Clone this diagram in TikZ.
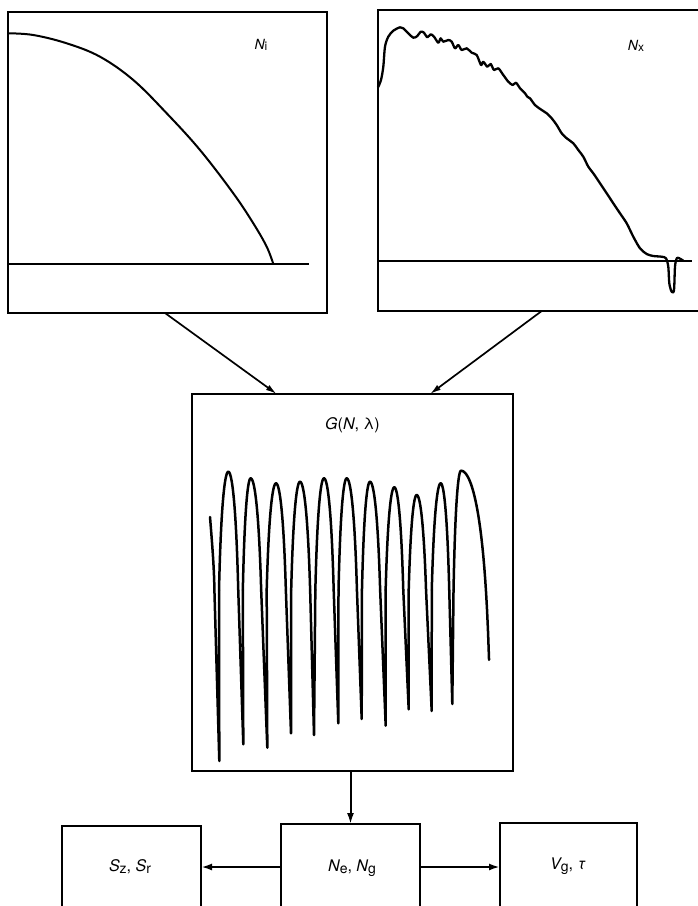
\documentclass[tikz,border=0pt]{standalone}
\usepackage{fontspec}
\setmainfont{TeX Gyre Heros}
\usetikzlibrary{arrows.meta,calc}
\newcommand\lsub[3]{\raisebox{-#3}{\fontsize{#1}{#1}\selectfont #2}}
\begin{document}
\begin{tikzpicture}[x=1pt,y=-1pt,
  box/.style={draw, line width=1.2pt, inner sep=0pt, outer sep=0pt, anchor=north west},
  trace/.style={line width=2.5pt, line join=round, line cap=round},
  axisline/.style={line width=1.1pt},
  arr/.style={line width=1.7pt, -{Latex[length=11pt,width=6pt]}},
  harr/.style={line width=2.4pt, -{Latex[length=11pt,width=7pt]}},
  toplbl/.style={inner sep=0pt, font=\fontsize{14}{16}\selectfont},
  botlbl/.style={inner sep=0pt, font=\fontsize{16}{19}\selectfont}]
\useasboundingbox (0,0) rectangle (698,906);
\begin{scope}
\clip (0,0) rectangle (698,906);
% boxes
\node[box, minimum width=319pt, minimum height=301pt] (ni) at (8,12) {};
\node[box, minimum width=330pt, minimum height=301pt] (nx) at (378,10) {};
\node[box, minimum width=321pt, minimum height=377pt] (g) at (192,394) {};
\node[box, minimum width=139pt, minimum height=120pt] (sz) at (62,826) {};
\node[box, minimum width=139pt, minimum height=120pt] (ne) at (281,824) {};
\node[box, minimum width=137pt, minimum height=120pt] (vg) at (500,823) {};
% baselines
\draw[axisline] (8,264) -- (309,264);
\draw[axisline] (378,261) -- (692,261);
% N_i curve
\draw[line width=2pt, line join=round] plot[smooth, tension=0.6] coordinates {(8,33.3) (33.3,35) (66.7,43.3) (100,56.7) (133.3,80) (166.7,113.3) (200,150) (233.3,193.3) (253.3,223.3) (266.7,246.7) (273.3,264)};
% N_x curve
\draw[trace, line width=2.3pt] plot[smooth, tension=0.5] coordinates {
(378,87.3) (381,80) (383.3,66.7) (385,46.7) (388.3,36.7) (393.3,30.7) (400,27.3) (403.3,28.3)
(408.3,33.3) (413.3,37.7) (417.3,36) (420.7,31.7) (424,32.7) (427.3,37.3) (430.7,34.3) (434,36.7)
(438.3,42.7) (440.7,38.3) (443.3,41.7) (448.3,40) (451.7,41.7) (455,48.3) (458.3,45) (461.7,50)
(466.7,48.3) (471.7,52.7) (476.7,55) (481,65) (483.3,61.7) (487.3,66.7) (490.7,64) (494,70)
(498.3,68.3) (503.3,75) (508.3,81.7) (512.7,85) (516,82.7) (520,88.3) (525,93.3) (527.3,96.7)
(530,98.3) (535,105) (541.7,110) (546.7,113.3) (551.7,118.3) (556.7,125) (561.7,133.3) (566.7,138.3)
(573.3,143.3) (578.3,150) (583.3,156.7) (588.3,166.7) (593.3,173.3) (600,183.3) (606.7,193.3)
(613.3,203.3) (620,213.3) (626.7,223.3) (633.3,236.7) (640,248.3) (646.7,254) (653.3,256)
(661.7,256.7) (666,258.3) (668.3,266.7) (669.3,283.3) (671.7,291.7) (674,290) (675,266.7)
(676.7,258.3) (679.3,258.3) (683.3,260.7)};
% G(N,lambda) trace: arches
\foreach \bl/\xp/\yp/\br/\ye [count=\i] in {
 216.7/228.3/471.7/240.7/590, 240.7/250.7/478.3/264/590, 264/276/483.3/288.7/590,
 288.7/300/481.7/313/590, 313/324/478.3/336.3/590, 336.3/346.7/478.3/359.7/590,
 359.7/370/481.7/383/590, 383/394.3/487.3/406/590, 406/416.7/495/429.2/590,
 429.2/440.7/483.3/451.7/590, 451.7/461/470.7/492/661} {
  \pgfmathsetmacro\uc{asin(exp(-(590-\yp)/100))}
  \pgfmathsetmacro\ue{180-asin(exp(-(\ye-\yp)/100))}
  \draw[trace] plot[domain=\uc:90, samples=30, variable=\uu] ({\bl+(\xp-\bl)*\uu/90},{\yp-100*ln(sin(\uu))})
     -- plot[domain=90:\ue, samples=30, variable=\uu] ({\xp+(\br-\xp)*(\uu-90)/90},{\yp-100*ln(sin(\uu))});
  \coordinate (aL\i) at ({\bl+(\xp-\bl)*\uc/90},590);
  \coordinate (aR\i) at ({\xp+(\br-\xp)*(\ue-90)/90},\ye);
}
% spikes
\coordinate (st) at (210,517);
\draw[trace] (st) .. controls (212.3,545) and (214.2,570) .. (214.4,590) -- (219.3,761) -- (aL1);
\foreach \sx/\sy/\j [count=\k from 2] in {243.3/744.3/1, 267.3/747.7/2, 291/733.3/3, 314/735/4,
 338.3/723.3/5, 361.7/719/6, 385.7/725.7/7, 408.7/709.3/8, 431.7/711/9, 452.3/704/10} {
  \draw[trace] (aR\j) -- (\sx,\sy) -- (aL\k);
}
% labels
\node[toplbl] (lni) at (261,45) {\itshape N\upshape\lsub{12}{i}{1.5pt}};
\node[toplbl] (lnx) at (636,46) {\itshape N\upshape\lsub{12}{x}{1.5pt}};
\node[inner sep=0pt, font=\fontsize{16}{19}\selectfont] (lg) at (352.5,425) {\itshape G\upshape(\itshape N\upshape, λ)};
\node[botlbl] (lsz) at (130,867) {\itshape S\upshape\lsub{14}{z}{2pt}, \itshape S\upshape\lsub{14}{r}{2pt}};
\node[botlbl] (lne) at (352,868) {\itshape N\upshape\lsub{14}{e}{2pt}, \itshape N\upshape\lsub{14}{g}{2pt}};
\node[botlbl] (lvg) at (568,866) {\itshape V\upshape\lsub{14}{g}{2pt}, \itshape τ};
\end{scope}
% connectors
\draw[arr] ([xshift=157pt]ni.south west) -- ([xshift=84.7pt]g.north west);
\draw[arr] ([xshift=163.7pt]nx.south west) -- ([xshift=238pt]g.north west);
\draw[harr, line width=2pt] (g.south -| ne.north) -- (ne.north);
\coordinate (row) at (0,867);
\draw[harr] (ne.west |- row) -- (sz.east |- row);
\draw[harr] (ne.east |- row) -- (vg.west |- row);
\end{tikzpicture}
\end{document}
